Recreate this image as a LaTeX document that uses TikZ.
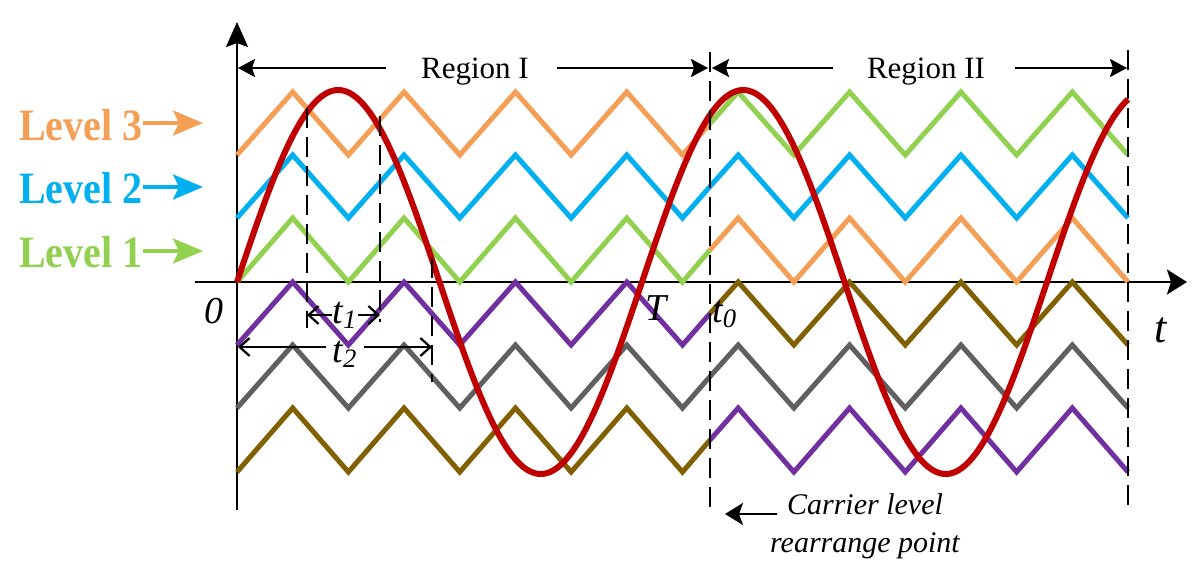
\documentclass[tikz,border=0pt]{standalone}
\usepackage{fontspec}
\usepackage{graphicx}
\setmainfont{Liberation Serif}
\usetikzlibrary{arrows.meta}
\definecolor{cOrange}{RGB}{244,158,86}
\definecolor{cBlue}{RGB}{0,176,240}
\definecolor{cGreen}{RGB}{146,208,80}
\definecolor{cPurple}{RGB}{112,48,160}
\definecolor{cGray}{RGB}{96,96,96}
\definecolor{cBrown}{RGB}{128,96,0}
\definecolor{cRed}{RGB}{192,0,0}
\tikzset{
  carrier/.style={line width=2.5pt},
  axisline/.style={line width=1.3pt, black},
  dashline/.style={line width=1.2pt, black, dash pattern=on 10pt off 4.5pt},
  sinewave/.style={line width=3pt, cRed},
  regarrow/.style={line width=1.2pt, -{Stealth[length=8.5pt,width=9pt,inset=1.5pt]}},
  tarrow/.style={line width=1.1pt, -{Straight Barb[length=5pt,width=9pt]}},
  lvlarrow/.style={line width=2pt, -{Stealth[length=15pt,width=12.5pt,inset=3pt]}},
  regtext/.style={inner sep=0pt, font=\fontsize{15.5}{18}\selectfont},
  lvltext/.style={inner sep=0pt, font=\fontsize{20}{24}\selectfont\bfseries},
  axtext/.style={inner sep=0pt, font=\fontsize{19}{22}\selectfont\itshape},
  bigttext/.style={inner sep=0pt, font=\fontsize{22}{24}\selectfont\itshape},
  ttext/.style={inner sep=0pt, font=\fontsize{19}{22}\selectfont\itshape},
  notetext/.style={inner sep=0pt, align=center, font=\fontsize{15}{19}\selectfont\itshape},
}
\newcommand\carrierone[3]{\draw[carrier,#1] (237,#2) -- (292.69,#3) -- (348.38,#2) -- (404.06,#3) -- (459.75,#2) -- (515.44,#3) -- (571.13,#2) -- (626.81,#3) -- (682.5,#2) -- (710,{(#2+#3)/2});}
\newcommand\carriertwo[3]{\draw[carrier,#1] (710,{(#2+#3)/2}) -- (738.19,#3) -- (793.88,#2) -- (849.56,#3) -- (905.25,#2) -- (960.94,#3) -- (1016.63,#2) -- (1072.31,#3) -- (1128,#2);}
\begin{document}
\begin{tikzpicture}[x=0.5pt, y=-0.5pt]
\useasboundingbox (0,0) rectangle (1196,574);
% axes
\coordinate (ybot) at (237,510);
\coordinate (ytop) at (237,22);
\coordinate (xl) at (195,282);
\coordinate (xr) at (1187,282);
\draw[axisline, -{Stealth[length=12.5pt,width=11pt,inset=2pt]}] (ybot) -- (ytop);
\draw[axisline, -{Stealth[length=10pt,width=12.5pt,inset=2pt]}] (xl) -- (xr);
% carriers region I
\carrierone{cOrange}{155}{92}
\carrierone{cBlue}{218}{155}
\carrierone{cGreen}{282}{218}
\carrierone{cPurple}{345}{282}
\carrierone{cGray}{408}{345}
\carrierone{cBrown}{472}{408}
% carriers region II
\carriertwo{cGreen}{155}{92}
\carriertwo{cBlue}{218}{155}
\carriertwo{cOrange}{282}{218}
\carriertwo{cBrown}{345}{282}
\carriertwo{cGray}{408}{345}
\carriertwo{cPurple}{472}{408}
% sine reference
\draw[sinewave] plot[domain=237:1128, samples=300, smooth] (\x, {282-192*sin((\x-237)*0.8888889)});
% dashed markers
\coordinate (d0a) at (710,52);
\coordinate (d0b) at (710,514);
\coordinate (d1a) at (1128,50);
\coordinate (d1b) at (1128,512);
\draw[dashline] (d0a) -- (d0b);
\draw[dashline] (d1a) -- (d1b);
\coordinate (s1a) at (307,108);
\coordinate (s1b) at (307,328);
\coordinate (s2a) at (380,116);
\coordinate (s2b) at (380,322);
\coordinate (s3a) at (432,258);
\coordinate (s3b) at (432,382);
\draw[dashline] (s1a) -- (s1b);
\draw[dashline] (s2a) -- (s2b);
\draw[dashline] (s3a) -- (s3b);
% region arrows
\node[regtext, anchor=base] (r1) at (475,78) {Region I};
\node[regtext, anchor=base] (r2) at (926,78) {Region II};
\coordinate (r1a) at (386,68);
\coordinate (r1l) at (238,68);
\coordinate (r1b) at (557,68);
\coordinate (r1r) at (708,68);
\coordinate (r2a) at (833,68);
\coordinate (r2l) at (712,68);
\coordinate (r2b) at (1015,68);
\coordinate (r2r) at (1127,68);
\draw[regarrow] (r1a) -- (r1l);
\draw[regarrow] (r1b) -- (r1r);
\draw[regarrow] (r2a) -- (r2l);
\draw[regarrow] (r2b) -- (r2r);
% level labels
\node[lvltext, cOrange, anchor=base east] (l3) at (143,140) {\scalebox{1}[1.12]{Level 3}};
\node[lvltext, cBlue, anchor=base east] (l2) at (143,203) {\scalebox{1}[1.12]{Level 2}};
\node[lvltext, cGreen, anchor=base east] (l1) at (143,267) {\scalebox{1}[1.12]{Level 1}};
\coordinate (a3) at (203,123);
\coordinate (a2) at (203,187);
\coordinate (a1) at (203,251);
\draw[lvlarrow, cOrange] (l3.east |- a3) -- (a3);
\draw[lvlarrow, cBlue] (l2.east |- a2) -- (a2);
\draw[lvlarrow, cGreen] (l1.east |- a1) -- (a1);
% axis labels
\node[axtext, anchor=base] (zero) at (214,323) {0};
\node[axtext, anchor=base] (Tl) at (656,320) {T};
\node[axtext, anchor=base west] (t0) at (712,322) {t\textsubscript{0}};
\node[bigttext, anchor=base] (tl) at (1161,342) {t};
% t1 / t2
\node[ttext, anchor=base] (t1) at (345,323) {t\textsubscript{1}};
\node[ttext, anchor=base] (t2) at (345,362) {t\textsubscript{2}};
\coordinate (t1l) at (307,315);
\coordinate (t1r) at (380,315);
\coordinate (t2l) at (238,347);
\coordinate (t2r) at (432,347);
\draw[tarrow] (t1.west |- t1l) -- (t1l);
\draw[tarrow] (t1.east |- t1r) -- (t1r);
\draw[tarrow] ([xshift=-3pt]t2.west |- t2l) -- (t2l);
\draw[tarrow] ([xshift=3pt]t2.east |- t2r) -- (t2r);
% rearrange note
\node[notetext, anchor=north] (note) at (865,493) {Carrier level\\rearrange point};
\coordinate (na) at (777,514);
\coordinate (nb) at (725,514);
\draw[line width=1.2pt, -{Stealth[length=9pt,width=11pt,inset=2pt]}] (na) -- (nb);
\end{tikzpicture}
\end{document}
